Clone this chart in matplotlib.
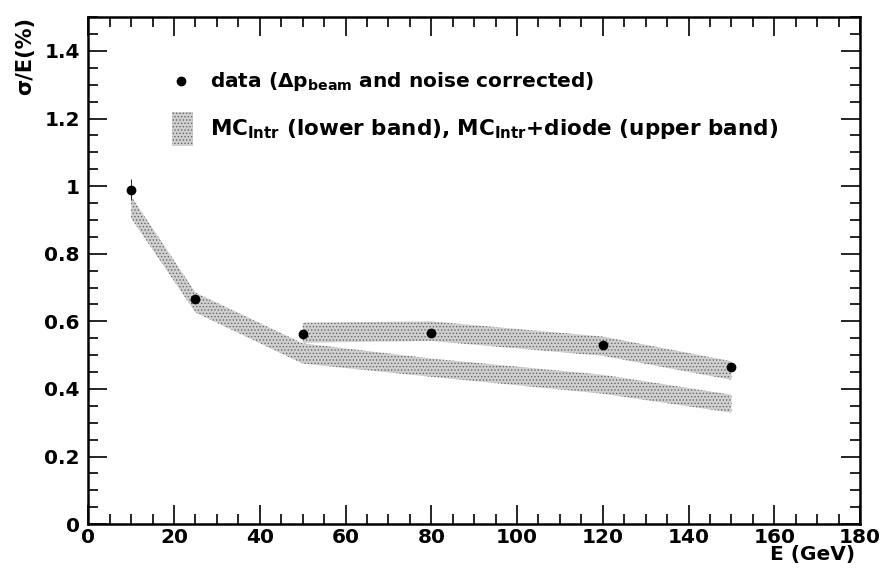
import numpy as np
import matplotlib
matplotlib.use("Agg")
import matplotlib.pyplot as plt
from matplotlib.ticker import MultipleLocator

plt.rcParams['font.family'] = ['DejaVu Sans']
plt.rcParams['mathtext.fontset'] = 'dejavusans'
plt.rcParams['hatch.linewidth'] = 0.6

# measured resolution (data)
e_data = [10, 25, 50, 80, 120, 150]
res_data = [0.99, 0.665, 0.562, 0.565, 0.530, 0.465]
err_data = [0.03, 0.01, 0.01, 0.01, 0.01, 0.01]

# MC intrinsic band (lower)
e_mc = [10, 25, 50, 80, 120, 150]
mc_lo = [0.905, 0.626, 0.475, 0.436, 0.386, 0.330]
mc_hi = [0.970, 0.685, 0.535, 0.490, 0.442, 0.383]

# MC intrinsic + diode band (upper)
e_mcd = [50, 80, 120, 150]
mcd_lo = [0.537, 0.542, 0.498, 0.427]
mcd_hi = [0.596, 0.600, 0.555, 0.482]

fig = plt.figure(figsize=(8.83, 5.71), dpi=100)
ax = fig.add_axes([0.1, 0.082, 0.874, 0.888])

band_kw = dict(facecolor='#d0d0d0', edgecolor='#666666', hatch='.....', linewidth=0)
ax.fill_between(e_mc, mc_lo, mc_hi, **band_kw)
ax.fill_between(e_mcd, mcd_lo, mcd_hi, **band_kw)

ax.errorbar(e_data, res_data, yerr=err_data, fmt='o', color='black',
            markersize=6, elinewidth=0.6, capsize=0, ls='none')

# legend drawn by hand
ax.plot([21.7], [1.31], 'o', color='black', markersize=6)
ax.text(28.5, 1.31, r'data (Δp$_{\mathbf{beam}}$ and noise corrected)',
        fontsize=14.5, fontweight='bold', va='center')
ax.fill_between([19.5, 24.5], [1.12, 1.12], [1.22, 1.22], **band_kw)
ax.text(28.5, 1.17, r'MC$_{\mathbf{Intr}}$ (lower band), MC$_{\mathbf{Intr}}$+diode (upper band)',
        fontsize=15.5, fontweight='bold', va='center')

ax.set_xlim(0, 180)
ax.set_ylim(0, 1.5)
ax.xaxis.set_major_locator(MultipleLocator(20))
ax.xaxis.set_minor_locator(MultipleLocator(5))
ax.yaxis.set_minor_locator(MultipleLocator(0.05))
ax.set_yticks([0, 0.2, 0.4, 0.6, 0.8, 1, 1.2, 1.4])
ax.set_yticklabels(['0', '0.2', '0.4', '0.6', '0.8', '1', '1.2', '1.4'])

ax.tick_params(which='both', direction='in', top=True, right=True, width=1.2)
ax.tick_params(which='major', length=14)
ax.tick_params(which='minor', length=7)
ax.tick_params(axis='both', labelsize=14.5)
ax.tick_params(axis='x', pad=3)
ax.tick_params(axis='y', pad=6)
for lab in ax.get_xticklabels() + ax.get_yticklabels():
    lab.set_fontweight('bold')
for sp in ax.spines.values():
    sp.set_linewidth(1.8)

fig.text(0.028, 0.97, 'σ/E(%)', rotation=90, ha='center', va='top',
         fontsize=15, fontweight='bold')
fig.text(0.968, 0.019, 'E (GeV)', ha='right', va='baseline',
         fontsize=14.5, fontweight='bold')

fig.savefig('out.png', dpi=100)
